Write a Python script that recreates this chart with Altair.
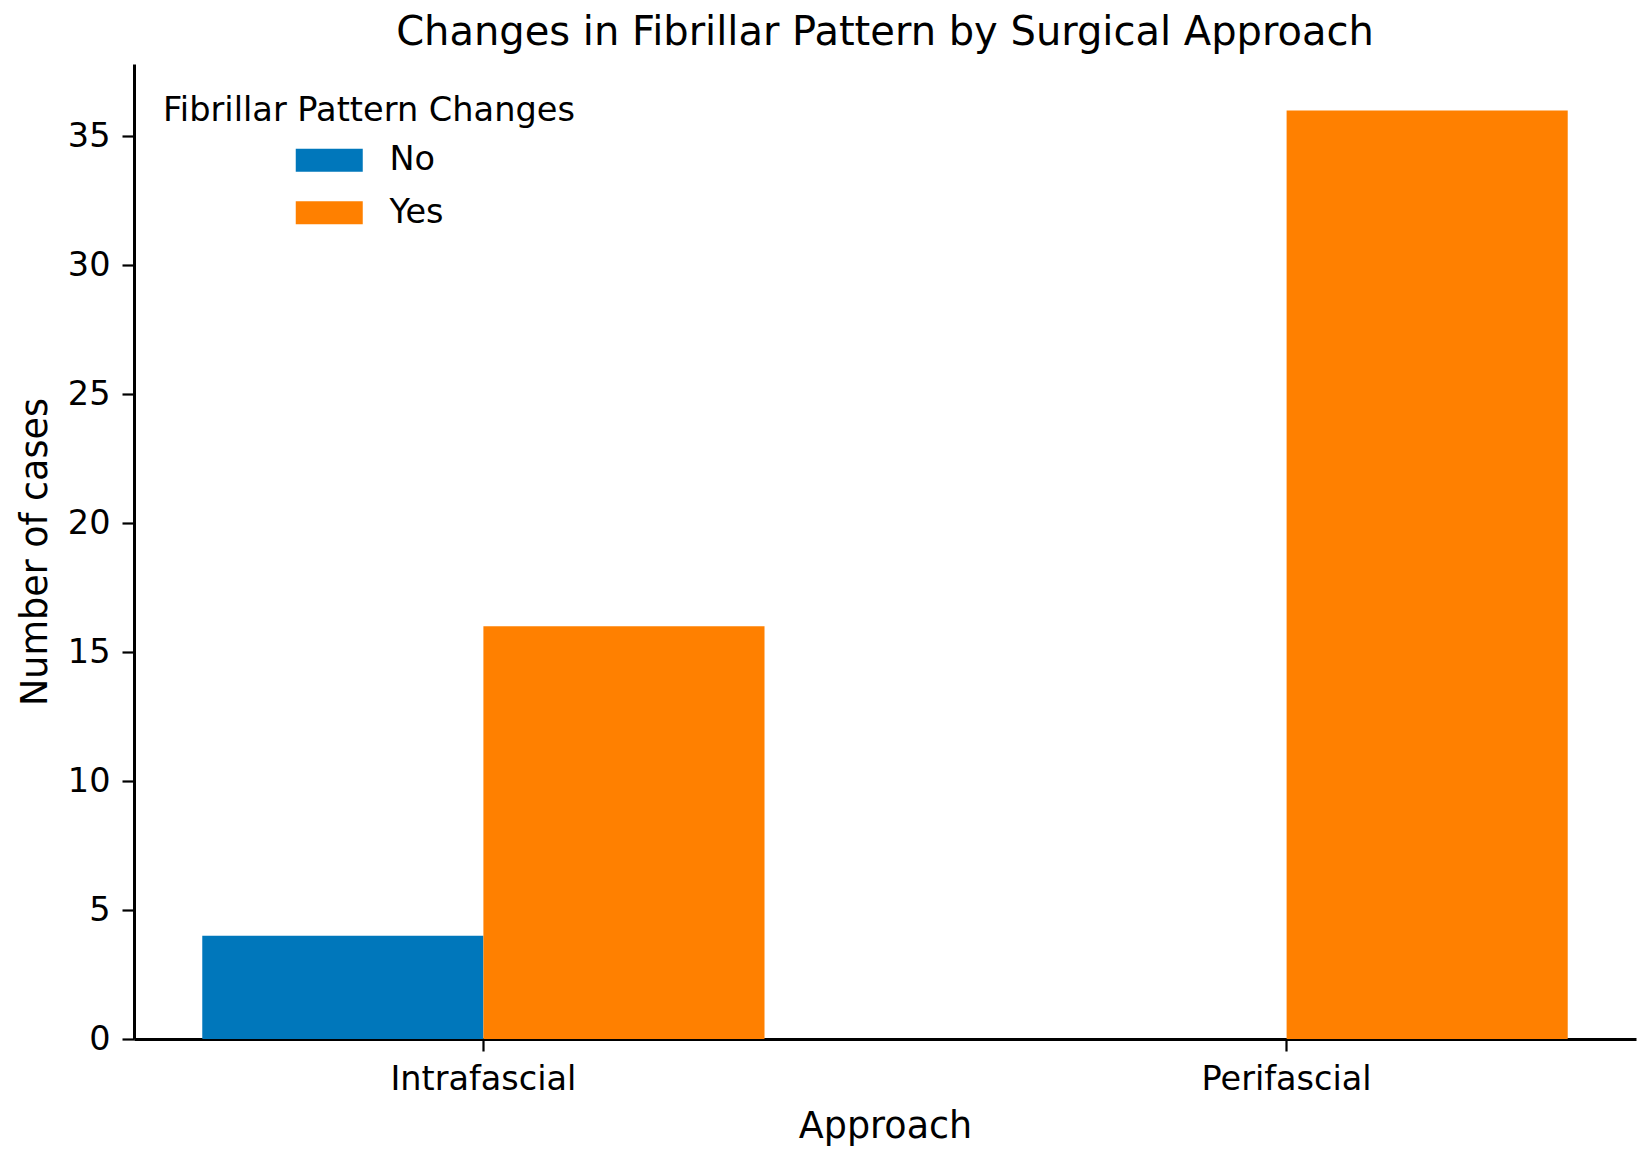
import altair as alt
import pandas as pd

approaches = ["Intrafascial", "Intrafascial", "Perifascial", "Perifascial"]
changes = ["No", "Yes", "No", "Yes"]
cases = [4, 16, 0, 36]
change_levels = ["No", "Yes"]
colors = ["#0077BB", "#FF8000"]
y_ticks = [0, 5, 10, 15, 20, 25, 30, 35]

df = pd.DataFrame({"Approach": approaches, "Change": changes, "Cases": cases})

FONT = "DejaVu Sans"

chart = (
    alt.Chart(df)
    .mark_bar()
    .encode(
        x=alt.X(
            "Approach:N",
            sort=["Intrafascial", "Perifascial"],
            scale=alt.Scale(paddingInner=0.3, paddingOuter=0.085),
            axis=alt.Axis(
                title="Approach",
                labelAngle=0,
                tickSize=12,
                tickWidth=2.2,
                domainWidth=3,
                labelPadding=12,
                labelFontSize=33.5,
                labelLimit=600,
                titleFontSize=36.5,
                titleBaseline="alphabetic",
                titleY=98,
            ),
        ),
        xOffset=alt.XOffset(
            "Change:N",
            sort=change_levels,
            scale=alt.Scale(paddingInner=0, paddingOuter=0),
        ),
        y=alt.Y(
            "Cases:Q",
            scale=alt.Scale(domain=[0, 37.8], nice=False),
            axis=alt.Axis(
                title="Number of cases",
                values=y_ticks,
                tickSize=12,
                tickWidth=2.2,
                domainWidth=3,
                labelPadding=12,
                labelFontSize=33.5,
                titleFontSize=36.5,
                titleLimit=1000,
                titleBaseline="alphabetic",
                titleAngle=270,
                titleX=-88,
                titleY=487.5,
            ),
        ),
        color=alt.Color(
            "Change:N",
            sort=change_levels,
            scale=alt.Scale(domain=change_levels, range=colors),
            legend=alt.Legend(
                title="Fibrillar Pattern Changes",
                orient="none",
                legendX=29,
                legendY=30,
                padding=0,
                titleFontSize=33.6,
                titleFontWeight="normal",
                titleColor="black",
                titlePadding=16,
                titleBaseline="top",
                titleLimit=1000,
                labelLimit=600,
                labelFontSize=33.5,
                labelColor="black",
                labelFont=FONT,
                titleFont=FONT,
                symbolType="M-2.913,-1H2.913V1H-2.913Z",
                symbolSize=529,
                symbolStrokeWidth=0,
                symbolOpacity=1,
                symbolOffset=149.5,
                labelOffset=43.5,
                rowPadding=17.5,
            ),
        ),
    )
    .properties(
        width=1502,
        height=975,
        padding={"left": 126, "top": 56, "right": 8, "bottom": 110},
        autosize=alt.AutoSizeParams(type="none"),
        title=alt.TitleParams(
            "Changes in Fibrillar Pattern by Surgical Approach",
            fontSize=40,
            font=FONT,
            fontWeight="normal",
            color="black",
            anchor="middle",
            baseline="alphabetic",
            offset=24,
            dy=45,
            limit=1600,
        ),
    )
    .configure_view(stroke=None)
    .configure_axis(
        grid=False,
        domainColor="black",
        tickColor="black",
        labelColor="black",
        titleColor="black",
        labelFont=FONT,
        titleFont=FONT,
        titleFontWeight="normal",
    )
)

chart.save("out.html", embed_options={"renderer": "svg", "actions": False})
